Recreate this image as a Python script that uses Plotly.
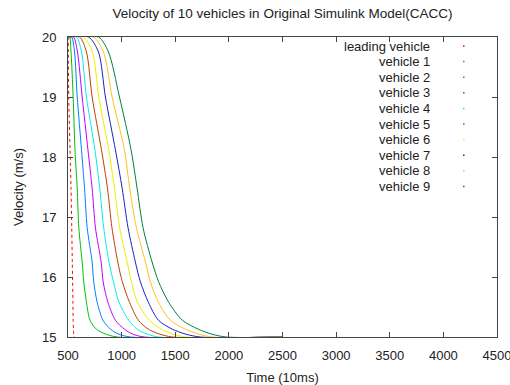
import plotly.graph_objects as go

# Velocity levels (m/s) at which the crossing time of each vehicle is listed
speed_levels = [20.0, 19.75, 19.0, 18.12, 17.48, 16.82, 16.25,
                15.92, 15.58, 15.28, 15.13, 15.05, 15.0]

# Time (in units of 10 ms) at which each vehicle passes the levels above
lead_t = [501, 503, 507, 519, 528, 535, 540, 543, 546, 548, 551, 553, 556]
v1_t = [514, 528, 548, 565, 586, 601, 632, 647, 672, 705, 765, 849, 961]
v2_t = [533, 561, 586, 626, 654, 679, 725, 740, 772, 826, 896, 970, 1082]
v3_t = [551, 588, 632, 686, 725, 756, 809, 828, 872, 942, 1026, 1100, 1212]
v4_t = [579, 626, 672, 751, 796, 833, 882, 924, 975, 1066, 1144, 1237, 1343]
v5_t = [607, 672, 725, 812, 868, 910, 964, 1007, 1073, 1156, 1249, 1352, 1473]
v6_t = [644, 728, 787, 880, 933, 982, 1051, 1091, 1147, 1259, 1370, 1473, 1603]
v7_t = [691, 784, 849, 942, 1005, 1060, 1128, 1175, 1249, 1343, 1473, 1594, 1734]
v8_t = [737, 831, 911, 1026, 1075, 1138, 1222, 1268, 1343, 1454, 1594, 1715, 1845]
v9_t = [784, 877, 980, 1088, 1144, 1200, 1284, 1345, 1438, 1566, 1715, 1836, 1976]

# Simulation window: every vehicle cruises at 20 m/s and settles at 15 m/s
t_begin, v_begin = 500, 20.0
t_finish, v_finish = 2500, 15.0

names = ["leading vehicle", "vehicle 1", "vehicle 2", "vehicle 3", "vehicle 4",
         "vehicle 5", "vehicle 6", "vehicle 7", "vehicle 8", "vehicle 9"]
series_t = [lead_t, v1_t, v2_t, v3_t, v4_t, v5_t, v6_t, v7_t, v8_t, v9_t]
colors = ["#ff0000", "#00c000", "#0080ff", "#c000ff", "#00eeee",
          "#c04000", "#eeee00", "#2020c0", "#ffc020", "#008040"]

x_ticks = [500, 1000, 1500, 2000, 2500, 3000, 3500, 4000, 4500]
y_ticks = [15, 16, 17, 18, 19, 20]

FONT = "Liberation Sans, Arial, sans-serif"
TEXT = "#222222"
AXIS = "#444444"
FS = 13

fig = go.Figure()
for name, ts, col in zip(names, series_t, colors):
    xs = [t_begin] + ts + [t_finish]
    ys = [v_begin] + speed_levels + [v_finish]
    fig.add_trace(go.Scatter(
        x=xs, y=ys, mode="lines", name=name,
        line=dict(color=col, width=1, shape="spline", smoothing=0.8,
                  dash="dot" if name == "leading vehicle" else "solid"),
        showlegend=False,
    ))

# gnuplot-style key: right-aligned label followed by a tiny sample dot
L, R, T, B = 67.5, 497.0, 37.0, 337.0
W, H = R - L, B - T
key_text_x = (432 - L) / W
key_dot_x = (463 - L) / W
key_y0, key_dy = 46.0, 15.6
for i, (name, col) in enumerate(zip(names, colors)):
    py = key_y0 + i * key_dy
    yp = (B - py) / H
    fig.add_annotation(x=key_text_x, y=yp, xref="paper", yref="paper",
                       text=name, showarrow=False, xanchor="right",
                       yanchor="middle", font=dict(family=FONT, size=FS, color=TEXT))
    fig.add_shape(type="rect", xref="paper", yref="paper",
                  x0=key_dot_x, x1=key_dot_x + 1.5 / W,
                  y0=yp - 0.75 / H, y1=yp + 0.75 / H,
                  line=dict(width=0), fillcolor=col)

axis_common = dict(showgrid=False, zeroline=False, showline=True, linecolor=AXIS,
                   linewidth=1, mirror="allticks", ticks="inside", ticklen=5,
                   tickcolor=AXIS, ticklabeloverflow="allow", automargin=False,
                   tickfont=dict(family=FONT, size=FS, color=TEXT))

fig.update_layout(
    width=510, height=385,
    margin=dict(l=L, r=510 - R, t=T, b=385 - B, autoexpand=False),
    paper_bgcolor="white", plot_bgcolor="white",
    font=dict(family=FONT, size=FS, color=TEXT),
    title=dict(text="Velocity of 10 vehicles in Original Simulink Model(CACC)",
               x=0.5, xref="paper", y=1 - 13 / 385, yref="container",
               xanchor="center", yanchor="middle",
               font=dict(family=FONT, size=13.5, color=TEXT)),
    xaxis=dict(range=[500, 4500], tickvals=x_ticks, ticklabelstandoff=6,
               title=dict(text="Time (10ms)", standoff=15,
                          font=dict(family=FONT, size=FS, color=TEXT)),
               **axis_common),
    yaxis=dict(range=[15, 20], tickvals=y_ticks, ticklabelstandoff=8,
               title=dict(text="Velocity (m/s)", standoff=15,
                          font=dict(family=FONT, size=FS, color=TEXT)),
               **axis_common),
)

fig.write_html("out.html")
